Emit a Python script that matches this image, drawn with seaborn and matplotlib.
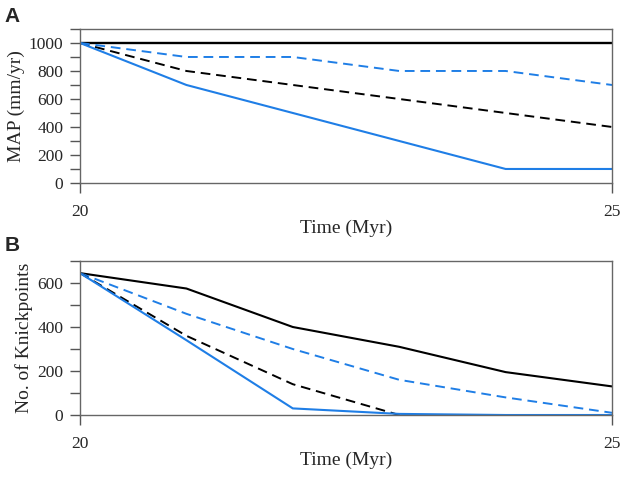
import numpy as np
import pandas as pd
import matplotlib
matplotlib.use("Agg")
import matplotlib.pyplot as plt
from matplotlib.ticker import MultipleLocator
import seaborn as sns

# --- data
time_myr = [20, 21, 22, 23, 24, 25]

map_black_solid = [1000, 1000, 1000, 1000, 1000, 1000]
map_black_dash = [1000, 800, 700, 600, 500, 400]
map_blue_dash = [1000, 900, 900, 800, 800, 700]
map_blue_solid = [1000, 700, 500, 300, 100, 100]

kp_black_solid = [645, 575, 400, 310, 195, 130]
kp_blue_dash = [645, 460, 300, 160, 80, 10]
kp_black_dash = [645, 360, 140, 0, 0, 0]
kp_blue_solid = [645, 340, 30, 5, 0, 0]

blue = "#1f7ee6"
dash = (0, (5, 3))

sns.set_style("white")
plt.rcParams["font.family"] = ["Liberation Serif", "DejaVu Serif"]

fig = plt.figure(figsize=(6.24, 4.79), dpi=100)
axA = fig.add_axes([0.1282, 0.6180, 0.8526, 0.3215])
axB = fig.add_axes([0.1282, 0.1336, 0.8526, 0.3215])


def draw(ax, series):
    for vals, col, ls, lw in series:
        sns.lineplot(x=time_myr, y=vals, ax=ax, color=col, linestyle=ls, linewidth=lw)


draw(axA, [
    (map_black_solid, "black", "-", 1.7),
    (map_black_dash, "black", dash, 1.4),
    (map_blue_dash, blue, dash, 1.4),
    (map_blue_solid, blue, "-", 1.5),
])
draw(axB, [
    (kp_black_solid, "black", "-", 1.5),
    (kp_blue_dash, blue, dash, 1.4),
    (kp_black_dash, "black", dash, 1.4),
    (kp_blue_solid, blue, "-", 1.5),
])

for ax, ylab, ymax in [(axA, "MAP (mm/yr)", 1100), (axB, "No. of Knickpoints", 700)]:
    ax.set_xlim(20, 25)
    ax.set_ylim(0, ymax)
    ax.set_xticks([20, 25])
    ax.yaxis.set_major_locator(MultipleLocator(200))
    ax.yaxis.set_minor_locator(MultipleLocator(100))
    ax.tick_params(axis="both", which="both", direction="out", length=7,
                   width=1, color="#555555", labelsize=12.5)
    ax.tick_params(axis="x", pad=8)
    ax.tick_params(axis="y", which="both", left=True, pad=5)
    ax.tick_params(axis="x", bottom=True)
    for s in ax.spines.values():
        s.set_visible(True)
        s.set_color("#666666")
        s.set_linewidth(1.0)
    ax.set_xlabel("Time (Myr)", fontsize=14, labelpad=0)
    ax.set_ylabel(ylab, fontsize=14, labelpad=3)
    ax.grid(False)

fig.text(0.007, 0.955, "A", fontsize=15, fontweight="bold",
         family=["Liberation Sans", "DejaVu Sans"])
fig.text(0.007, 0.475, "B", fontsize=15, fontweight="bold",
         family=["Liberation Sans", "DejaVu Sans"])

fig.savefig("out.png", dpi=100)
